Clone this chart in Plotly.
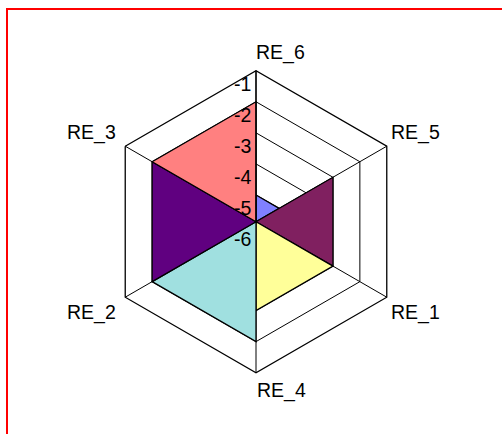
import math
import plotly.graph_objects as go

# ---- data ----
categories = ["RE_6", "RE_5", "RE_1", "RE_4", "RE_2", "RE_3"]
# wedge i spans categories[i] -> categories[i+1], both vertices at wedge_values[i]
wedge_values = [-5, -3, -3, -2, -2, -2]
wedge_colors = ["#8080FF", "#802060", "#FFFF99", "#A0E0E0", "#600080", "#FF8080"]
radial_ticks = [-1, -2, -3, -4, -5, -6]
radial_range = [-5.86, -1]

W, H = 502, 434
FONT = "Liberation Sans, Arial, sans-serif"
FS = 19.5
LW = 1.3

fig = go.Figure()
n = len(categories)
for i, v in enumerate(wedge_values):
    a = categories[i]
    b = categories[(i + 1) % n]
    fig.add_trace(go.Scatterpolar(
        r=[radial_range[0], v, v, radial_range[0]],
        theta=[a, a, b, a],
        mode="lines", fill="toself", fillcolor=wedge_colors[i],
        line=dict(color="black", width=LW),
        hoverinfo="skip", showlegend=False))

# polar geometry (pixels) used to place the label annotations
cx, cy, R = 256, 221.7, 151


def to_px(idx, val):
    """pixel position of value `val` on category axis `idx` (clockwise from top)."""
    ang = math.radians(90 - 60 * idx)
    rr = R * (val - radial_range[0]) / (radial_range[1] - radial_range[0])
    return cx + rr * math.cos(ang), cy - rr * math.sin(ang)


annotations = []
# category labels, just outside each outer vertex
lab_anchor = ["left", "left", "left", "left", "right", "right"]
lab_shift = [(-2, 18), (2, 14), (2, -15), (-1, -18), (-7, -15), (-7, 14)]
for i, c in enumerate(categories):
    px, py = to_px(i, radial_range[1])
    annotations.append(dict(
        text=c, x=px / W, y=1 - py / H, xref="paper", yref="paper",
        xanchor=lab_anchor[i], yanchor="middle",
        xshift=lab_shift[i][0], yshift=lab_shift[i][1],
        showarrow=False, font=dict(family=FONT, size=FS, color="black")))

# radial tick labels, left of the vertical (RE_6) axis, just below each ring
for t in radial_ticks:
    px, py = to_px(0, t)
    annotations.append(dict(
        text=str(t), x=px / W, y=1 - py / H, xref="paper", yref="paper",
        xanchor="right", yanchor="top", xshift=-3, yshift=0,
        showarrow=False, font=dict(family=FONT, size=FS, color="black")))

fig.update_layout(
    width=W, height=H,
    margin=dict(l=0, r=0, t=0, b=0),
    paper_bgcolor="white", plot_bgcolor="white",
    polar=dict(
        domain=dict(x=[(cx - R) / W, (cx + R) / W], y=[1 - (cy + R) / H, 1 - (cy - R) / H]),
        bgcolor="white", gridshape="linear",
        radialaxis=dict(range=radial_range, tickvals=radial_ticks, showticklabels=False,
                        ticks="", showline=True, linecolor="black", linewidth=LW,
                        gridcolor="black", gridwidth=LW, angle=90),
        angularaxis=dict(categoryorder="array", categoryarray=categories, rotation=90,
                         direction="clockwise", showticklabels=False, ticks="",
                         showline=True, linecolor="black", linewidth=LW,
                         gridcolor="black", gridwidth=LW),
    ),
    annotations=annotations,
    shapes=[dict(type="rect", xref="paper", yref="paper",
                 x0=7 / W, x1=1.05, y0=-0.05, y1=1 - 9 / H,
                 line=dict(color="red", width=2), fillcolor="rgba(0,0,0,0)")],
)

fig.write_html("out.html", config={"displayModeBar": False},
               post_script="document.body.style.margin='0';")
